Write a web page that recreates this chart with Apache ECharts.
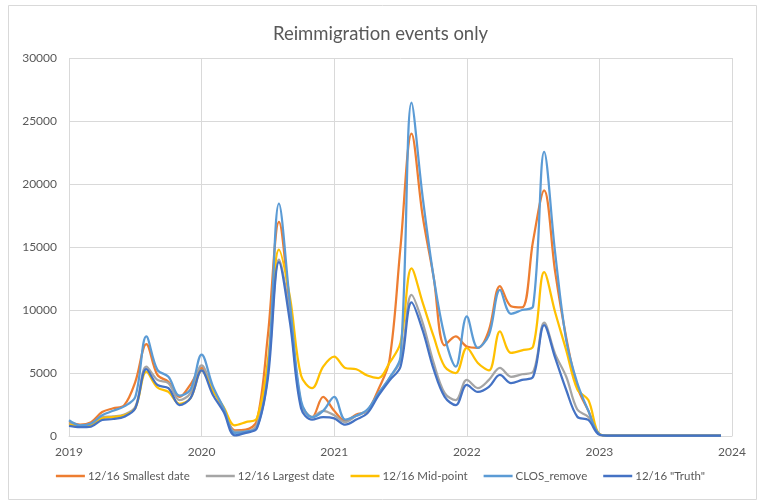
<!DOCTYPE html>
<html>
<head>
<meta charset="utf-8">
<script src="https://cdn.jsdelivr.net/npm/echarts@6/dist/echarts.min.js"></script>
<style>
html,body{margin:0;padding:0;background:#fff;}
#c{width:761px;height:504px;}
</style>
</head>
<body>
<div id="c"></div>
<script>
// Monthly data, Jan 2019 .. Dec 2023
var startYear = 2019;
var yearTicks = [2019, 2020, 2021, 2022, 2023, 2024];
var seriesNames = ['12/16 Smallest date', '12/16 Largest date', '12/16 Mid-point', 'CLOS_remove', '12/16 "Truth"'];

var smallestDate = [
  1100, 900, 1100, 1900, 2200, 2450, 4300, 7300, 4850, 4300, 3100, 4100,
  5400, 3800, 2100, 450, 500, 1200, 8000, 17000, 10000, 2600, 1500, 3100,
  2000, 1200, 1700, 2000, 3700, 6000, 15000, 24000, 17500, 12600, 7200, 7900,
  7100, 7000, 8400, 11900, 10300, 10200, 15500, 19500, 13000, 7800, 3900, 2000,
  150, 20, 20, 20, 20, 20, 20, 20, 20, 20, 20, 20
];
var largestDate = [
  1000, 800, 950, 1480, 1550, 1700, 2300, 5500, 4450, 4200, 2850, 3400,
  5600, 3700, 2200, 350, 350, 900, 5200, 14000, 9500, 2500, 1500, 2000,
  1650, 1100, 1600, 2000, 3300, 4600, 6000, 11200, 9000, 5800, 3400, 2850,
  4450, 3800, 4450, 5400, 4700, 4900, 5100, 9000, 6500, 4700, 2100, 1500,
  150, 20, 20, 20, 20, 20, 20, 20, 20, 20, 20, 20
];
var midPoint = [
  900, 800, 900, 1400, 1500, 1650, 2200, 5100, 3850, 3500, 2550, 3000,
  5200, 3600, 2300, 850, 1100, 1400, 6000, 14800, 11000, 4800, 3800, 5500,
  6300, 5400, 5300, 4800, 4600, 5800, 7400, 13300, 10600, 7900, 5500, 5000,
  7000, 5800, 5200, 8300, 6600, 6800, 7100, 13000, 9800, 6800, 3700, 2850,
  150, 20, 20, 20, 20, 20, 20, 20, 20, 20, 20, 20
];
var closRemove = [
  1250, 850, 1000, 1650, 2000, 2350, 3100, 7900, 5250, 4700, 3200, 3700,
  6450, 4000, 2200, 250, 350, 650, 5000, 18450, 10500, 2800, 1500, 2000,
  3100, 1300, 1600, 2100, 3400, 4600, 6300, 26450, 19000, 12600, 7900, 5500,
  9500, 7000, 8000, 11600, 9700, 10000, 10300, 22550, 14500, 7600, 4200, 2000,
  150, 20, 20, 20, 20, 20, 20, 20, 20, 20, 20, 20
];
var truth = [
  800, 700, 750, 1270, 1350, 1530, 2200, 5300, 4050, 3800, 2460, 3000,
  5200, 3300, 1900, 50, 250, 600, 4600, 13800, 9000, 2200, 1300, 1500,
  1400, 900, 1300, 1800, 3200, 4400, 5500, 10600, 8400, 5300, 3100, 2450,
  4050, 3500, 3900, 4850, 4200, 4450, 4700, 8800, 6200, 3650, 1530, 1270,
  100, 20, 20, 20, 20, 20, 20, 20, 20, 20, 20, 20
];
var colors = ['#ED7D31', '#A5A5A5', '#FFC000', '#5B9BD5', '#4472C4'];

function pairs(arr) {
  return arr.map(function (v, i) { return [startYear + i / 12, v]; });
}
var allData = [smallestDate, largestDate, midPoint, closRemove, truth];

var chart = echarts.init(document.getElementById('c'));
var font = 'Lato, "Open Sans", sans-serif';
chart.setOption({
  animation: false,
  backgroundColor: '#fff',
  textStyle: {fontFamily: font},
  title: {
    text: 'Reimmigration events only',
    left: 'center', top: 20,
    textStyle: {fontFamily: font, fontSize: 18.5, fontWeight: 'normal', color: '#595959'}
  },
  legend: {
    bottom: 17, left: 'center',
    itemWidth: 29, itemHeight: 2.5, itemGap: 16,
    icon: 'rect',
    textStyle: {fontFamily: font, fontSize: 11.5, color: '#595959', padding: [0, 0, 0, -2]},
    data: seriesNames
  },
  grid: {left: 69, right: 29, top: 58, bottom: 68},
  xAxis: {
    type: 'value', min: 2019, max: 2024, interval: 1,
    axisLine: {show: true, lineStyle: {color: '#d9d9d9', width: 1}},
    axisTick: {show: false},
    splitLine: {show: true, lineStyle: {color: '#d9d9d9', width: 1}},
    axisLabel: {color: '#595959', fontSize: 12, margin: 10, formatter: function (v) { return String(v); }}
  },
  yAxis: {
    type: 'value', min: 0, max: 30000, interval: 5000,
    axisLine: {show: false},
    axisTick: {show: false},
    splitLine: {lineStyle: {color: '#d9d9d9', width: 1}},
    axisLabel: {color: '#595959', fontSize: 12, margin: 12, formatter: function (v) { return String(v); }}
  },
  graphic: [{
    type: 'rect', left: 6, top: 3, shape: {width: 748, height: 494},
    style: {fill: 'none', stroke: '#d9d9d9', lineWidth: 1}, silent: true, z: -1
  }],
  series: allData.map(function (arr, k) {
    return {
      name: seriesNames[k], type: 'line', data: pairs(arr),
      smooth: 0.35, showSymbol: false, symbol: 'none',
      lineStyle: {color: colors[k], width: 2.25},
      itemStyle: {color: colors[k]},
      z: 2 + k
    };
  })
});
</script>
</body>
</html>
